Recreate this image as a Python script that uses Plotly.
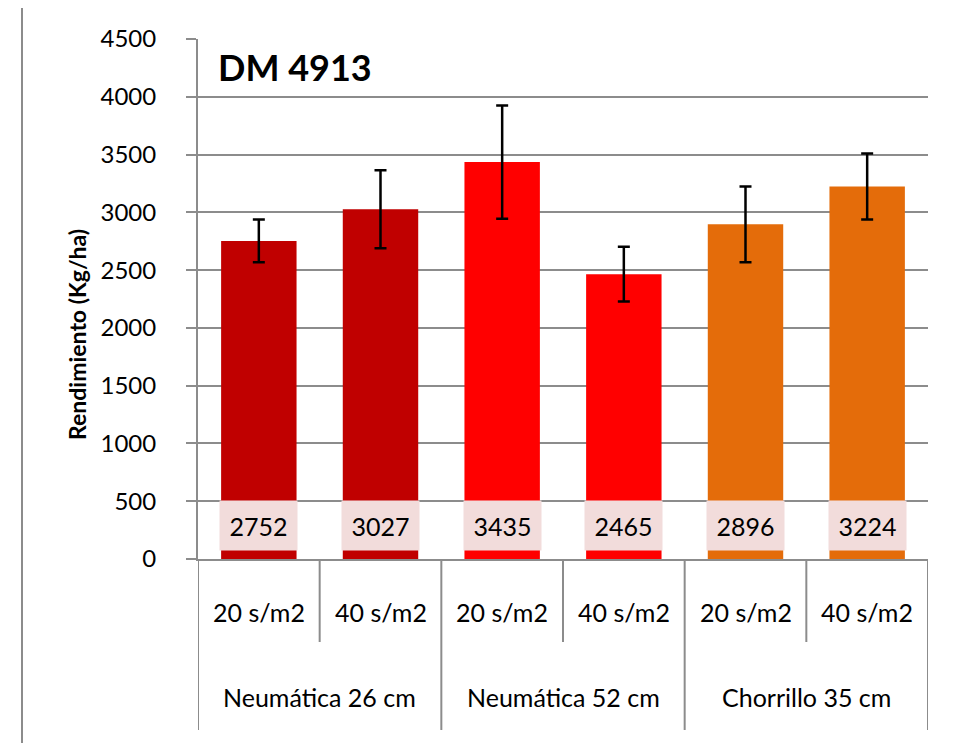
import plotly.graph_objects as go

groups = ["Neumática 26 cm", "Neumática 52 cm", "Chorrillo 35 cm"]
densidades = ["20 s/m2", "40 s/m2", "20 s/m2", "40 s/m2", "20 s/m2", "40 s/m2"]
rendimiento = [2752, 3027, 3435, 2465, 2896, 3224]
error = [185, 338, 490, 237, 328, 286]
colores = ["#C00000", "#C00000", "#FF0000", "#FF0000", "#E46C0A", "#E46C0A"]
y_ticks = [0, 500, 1000, 1500, 2000, 2500, 3000, 3500, 4000, 4500]
label_y = 290

FONT = "Lato"
GRAY = "#8C8C8C"

xs = list(range(len(rendimiento)))

fig = go.Figure()
fig.add_trace(go.Bar(
    x=xs, y=rendimiento, width=0.62,
    marker=dict(color=colores, line=dict(width=0)),
    error_y=dict(type="data", array=error, visible=True, color="black",
                 thickness=2.5, width=6),
    hoverinfo="skip",
))

annotations = []
# value labels
for i, v in enumerate(rendimiento):
    annotations.append(dict(
        x=i, y=label_y, xref="x", yref="y", text=str(v), showarrow=False,
        bgcolor="#F2DCDB", width=75, height=47,
        font=dict(family=FONT, size=25, color="black"),
    ))
# sub-category labels
for i, d in enumerate(densidades):
    annotations.append(dict(
        x=i, y=-0.102, xref="x", yref="paper", text=d, showarrow=False,
        font=dict(family=FONT, size=25, color="black"), yanchor="middle",
    ))
# group labels
for g, name in enumerate(groups):
    annotations.append(dict(
        x=2 * g + 0.5, y=-0.265, xref="x", yref="paper", text=name, showarrow=False,
        font=dict(family=FONT, size=25, color="black"), yanchor="middle",
    ))
# chart title
annotations.append(dict(
    x=0.0247, y=0.946, xref="paper", yref="paper", text="<b>DM 4913</b>",
    showarrow=False, xanchor="left", yanchor="middle",
    font=dict(family=FONT, size=36, color="black"),
))
# y-axis title
annotations.append(dict(
    x=-0.1658, y=0.4327, xref="paper", yref="paper", text="<b>Rendimiento (Kg/ha)</b>",
    showarrow=False, textangle=-90, xanchor="center", yanchor="middle",
    font=dict(family=FONT, size=23, color="black"),
))

shapes = []
# separators between sub-categories
for b in [0.5, 2.5, 4.5]:
    shapes.append(dict(type="line", xref="x", yref="paper", x0=b, x1=b, y0=0, y1=-0.1596,
                       line=dict(color=GRAY, width=2)))
# separators between groups
for b in [-0.5, 1.5, 3.5, 5.5]:
    shapes.append(dict(type="line", xref="x", yref="paper", x0=b, x1=b, y0=0, y1=-0.3288,
                       line=dict(color=GRAY, width=2)))
# outer chart border (left / right)
for px in [22, 960]:
    xp = (px - 198) / 730
    shapes.append(dict(type="line", xref="paper", yref="paper", x0=xp, x1=xp, y0=-0.36, y1=1.08,
                       line=dict(color=GRAY, width=2)))

fig.update_layout(
    width=966, height=743,
    margin=dict(l=190, r=46, t=31, b=192),
    paper_bgcolor="white", plot_bgcolor="white",
    showlegend=False,
    annotations=annotations, shapes=shapes,
    font=dict(family=FONT, color="black"),
)
fig.update_xaxes(
    range=[-0.5, 5.5], showticklabels=False, showgrid=False, zeroline=False,
    showline=True, linecolor=GRAY, linewidth=2, ticks="", fixedrange=True,
)
fig.update_yaxes(
    range=[0, 4500], tickvals=y_ticks, ticktext=[str(t) for t in y_ticks],
    showgrid=True, gridcolor=GRAY, gridwidth=2, zeroline=False,
    showline=True, linecolor=GRAY, linewidth=2,
    ticks="outside", ticklen=10, tickcolor=GRAY, tickwidth=2,
    ticklabelstandoff=25,
    tickfont=dict(family=FONT, size=24, color="black"),
)

fig.write_html("out.html")
